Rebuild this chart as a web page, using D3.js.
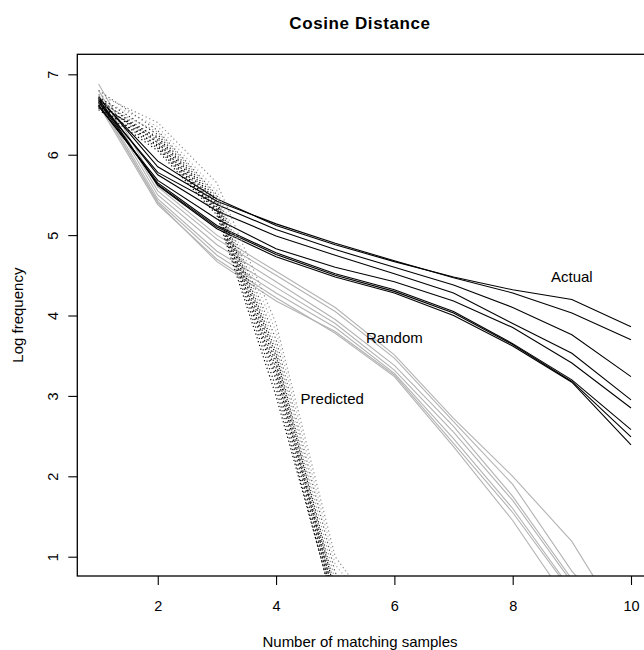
<!DOCTYPE html>
<html>
<head>
<meta charset="utf-8">
<script src="https://cdn.jsdelivr.net/npm/d3@7"></script>
<style>
  html, body { margin: 0; padding: 0; background: #fff; }
  svg { display: block; font-family: "Liberation Sans", Arial, Helvetica, sans-serif; }
</style>
</head>
<body>
<svg id="chart" width="644" height="650"></svg>
<script>
// ---- data ----
const xSteps = [1, 2, 3, 4, 5, 6, 7, 8, 9, 10];

const actualSeries = [
  [6.70, 5.92, 5.45, 5.12, 4.88, 4.67, 4.48, 4.32, 4.20, 3.86],
  [6.72, 5.85, 5.42, 5.14, 4.90, 4.68, 4.47, 4.28, 4.03, 3.70],
  [6.65, 5.78, 5.38, 5.07, 4.82, 4.60, 4.38, 4.10, 3.76, 3.24],
  [6.68, 5.75, 5.30, 4.99, 4.75, 4.52, 4.28, 3.90, 3.53, 2.95],
  [6.60, 5.68, 5.20, 4.83, 4.60, 4.42, 4.18, 3.85, 3.41, 2.85],
  [6.62, 5.65, 5.12, 4.78, 4.52, 4.32, 4.05, 3.65, 3.20, 2.58],
  [6.66, 5.63, 5.10, 4.76, 4.50, 4.30, 4.03, 3.64, 3.18, 2.49],
  [6.70, 5.62, 5.08, 4.73, 4.48, 4.28, 4.00, 3.62, 3.17, 2.39]
];

const randomSeries = [
  [6.88, 5.60, 5.00, 4.55, 4.10, 3.51, 2.72, 2.00, 1.19, 0.00],
  [6.80, 5.55, 4.95, 4.50, 4.05, 3.47, 2.68, 1.90, 0.82, 0.00],
  [6.75, 5.50, 4.88, 4.42, 3.95, 3.38, 2.62, 1.75, 0.72, 0.00],
  [6.70, 5.45, 4.80, 4.35, 3.90, 3.32, 2.55, 1.70, 0.68, 0.00],
  [6.65, 5.42, 4.75, 4.28, 3.85, 3.28, 2.47, 1.60, 0.58, 0.00],
  [6.68, 5.40, 4.67, 4.18, 3.80, 3.26, 2.41, 1.55, 0.55, 0.00],
  [6.62, 5.38, 4.70, 4.22, 3.78, 3.24, 2.37, 1.45, 0.37, 0.00]
];

const predictedSeries = [
  [6.75, 6.40, 5.65, 3.90, 1.00, 0.00],
  [6.70, 6.35, 5.55, 3.80, 0.90, 0.00],
  [6.80, 6.30, 5.50, 3.70, 0.80, 0.00],
  [6.65, 6.28, 5.48, 3.62, 0.70],
  [6.72, 6.25, 5.45, 3.55, 0.60],
  [6.60, 6.22, 5.42, 3.50, 0.55],
  [6.68, 6.20, 5.40, 3.45, 0.50],
  [6.62, 6.18, 5.38, 3.40, 0.45],
  [6.70, 6.15, 5.35, 3.35, 0.45],
  [6.58, 6.12, 5.32, 3.30, 0.40],
  [6.64, 6.15, 5.33, 3.25, 0.38],
  [6.66, 6.10, 5.30, 3.20, 0.35],
  [6.60, 6.08, 5.28, 3.10, 0.30],
  [6.56, 6.05, 5.25, 3.00, 0.35]
];
const predictedColors = ["#8c8c8c", "#b0b0b0", "#555555", "#999999", "#222222", "#000000", "#444444",
                         "#000000", "#222222", "#000000", "#333333", "#000000", "#111111", "#000000"];

const xTicks = [2, 4, 6, 8, 10];
const yTicks = [1, 2, 3, 4, 5, 6, 7];

const groupLabels = [
  { text: "Actual", x: 9.0, y: 4.48 },
  { text: "Random", x: 6.0, y: 3.72 },
  { text: "Predicted", x: 4.95, y: 2.97 }
];

const titleText = "Cosine Distance";
const xTitle = "Number of matching samples";
const yTitle = "Log frequency";

// ---- layout ----
const pLeft = 77.3, pRight = 652.3, pTop = 54.3, pBottom = 576;
const svg = d3.select("#chart");

const x = d3.scaleLinear().domain([0.64, 10.36]).range([pLeft, pRight]);
const y = d3.scaleLinear().domain([0.76, 7.249]).range([pBottom, pTop]);

svg.append("defs").append("clipPath").attr("id", "plotclip")
  .append("rect").attr("x", pLeft).attr("y", pTop)
  .attr("width", pRight - pLeft).attr("height", pBottom - pTop);

const plot = svg.append("g").attr("clip-path", "url(#plotclip)");

const line = d3.line().x((d, i) => x(xSteps[i])).y(d => y(d));

// random (gray)
plot.selectAll("path.random").data(randomSeries).join("path")
  .attr("class", "random")
  .attr("d", line)
  .attr("fill", "none")
  .attr("stroke", "#b3b3b3")
  .attr("stroke-width", 1.1);

// actual (black)
plot.selectAll("path.actual").data(actualSeries).join("path")
  .attr("class", "actual")
  .attr("d", line)
  .attr("fill", "none")
  .attr("stroke", "#000")
  .attr("stroke-width", 1.1);

// predicted (dotted)
plot.selectAll("path.pred").data(predictedSeries).join("path")
  .attr("class", "pred")
  .attr("d", line)
  .attr("fill", "none")
  .attr("stroke", (d, i) => predictedColors[i])
  .attr("stroke-width", 1.2)
  .attr("stroke-dasharray", "1.2,2.8");

// frame
svg.append("rect")
  .attr("x", pLeft).attr("y", pTop)
  .attr("width", pRight - pLeft).attr("height", pBottom - pTop)
  .attr("fill", "none").attr("stroke", "#000").attr("stroke-width", 1.3);

// x axis
const xAxis = svg.append("g")
  .attr("transform", `translate(0,${pBottom})`)
  .call(d3.axisBottom(x).tickValues(xTicks).tickSize(9).tickPadding(16).tickFormat(d3.format("d")));
xAxis.select(".domain").remove();
xAxis.selectAll("line").attr("stroke", "#000").attr("stroke-width", 1.1);
xAxis.selectAll("text").attr("font-size", 14.5).attr("fill", "#000")
  .attr("font-family", "'Liberation Sans', Arial, sans-serif");

// y axis
const yAxis = svg.append("g")
  .attr("transform", `translate(${pLeft},0)`)
  .call(d3.axisLeft(y).tickValues(yTicks).tickSize(9).tickFormat(d3.format("d")));
yAxis.select(".domain").remove();
yAxis.selectAll("line").attr("stroke", "#000").attr("stroke-width", 1.1);
yAxis.selectAll("text")
  .attr("x", null).attr("dy", "0.36em")
  .attr("text-anchor", "middle")
  .attr("transform", "translate(-24.8,0) rotate(-90)")
  .attr("font-size", 14.5).attr("fill", "#000")
  .attr("font-family", "'Liberation Sans', Arial, sans-serif");

// group labels
svg.selectAll("text.glabel").data(groupLabels).join("text")
  .attr("class", "glabel")
  .attr("x", d => x(d.x)).attr("y", d => y(d.y))
  .attr("dy", "0.36em")
  .attr("text-anchor", "middle")
  .attr("font-size", 15)
  .text(d => d.text);

// titles
svg.append("text")
  .attr("x", 360).attr("y", 29)
  .attr("text-anchor", "middle")
  .attr("font-size", 17).attr("font-weight", "bold")
  .attr("letter-spacing", 0.6)
  .text(titleText);

svg.append("text")
  .attr("x", 360).attr("y", 647)
  .attr("text-anchor", "middle")
  .attr("font-size", 15)
  .text(xTitle);

svg.append("text")
  .attr("transform", `translate(23,${(pTop + pBottom) / 2}) rotate(-90)`)
  .attr("text-anchor", "middle")
  .attr("font-size", 15)
  .text(yTitle);
</script>
</body>
</html>
